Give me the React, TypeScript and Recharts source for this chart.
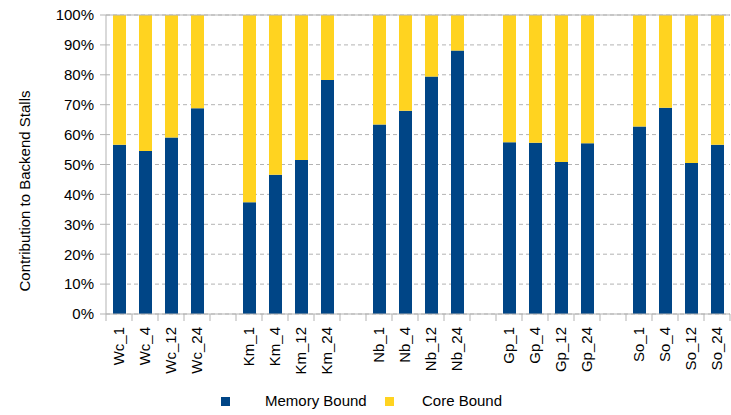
import React from 'react';
import { BarChart, Bar, XAxis, YAxis, CartesianGrid, Legend, ReferenceLine } from 'recharts';

const categories = [
  'Wc_1', 'Wc_4', 'Wc_12', 'Wc_24', 'gap1',
  'Km_1', 'Km_4', 'Km_12', 'Km_24', 'gap2',
  'Nb_1', 'Nb_4', 'Nb_12', 'Nb_24', 'gap3',
  'Gp_1', 'Gp_4', 'Gp_12', 'Gp_24', 'gap4',
  'So_1', 'So_4', 'So_12', 'So_24',
];

const memoryBound: number[] = [
  56.6, 54.5, 59.0, 68.8, 0,
  37.4, 46.6, 51.5, 78.3, 0,
  63.4, 68.0, 79.4, 88.1, 0,
  57.4, 57.3, 50.8, 57.1, 0,
  62.7, 69.0, 50.5, 56.6,
];

const coreBound: number[] = [
  43.4, 45.5, 41.0, 31.2, 0,
  62.6, 53.4, 48.5, 21.7, 0,
  36.6, 32.0, 20.6, 11.9, 0,
  42.6, 42.7, 49.2, 42.9, 0,
  37.3, 31.0, 49.5, 43.4,
];

const yTicks = [0, 10, 20, 30, 40, 50, 60, 70, 80, 90, 100];

const seriesNames = { memory: 'Memory Bound', core: 'Core Bound' };
const COLORS = { memory: '#004586', core: '#ffd320' };
const AXIS = '#b3b3b3';
const FONT = '"Liberation Sans", Arial, sans-serif';

const data = categories.map((name, i) => ({
  name,
  memory: memoryBound[i],
  core: coreBound[i],
}));

const HALF_BAND = 13;

const XTick = (props: any) => {
  const { x, y, payload, index } = props;
  const label = String(payload.value).startsWith('gap') ? '' : payload.value;
  const isLast = index === categories.length - 1;
  const ty = y + 5;
  return (
    <g>
      <line x1={x - HALF_BAND} x2={x - HALF_BAND} y1={y - 8} y2={y - 1} stroke={AXIS} />
      {isLast && <line x1={x + HALF_BAND} x2={x + HALF_BAND} y1={y - 8} y2={y - 1} stroke={AXIS} />}
      {label && (
        <g transform={`translate(${x}, ${ty}) rotate(-90)`}>
          <text x={0} y={0} textAnchor="end" dy="0.36em" fill="#000" fontSize={15} fontFamily={FONT}>
            {label}
          </text>
        </g>
      )}
    </g>
  );
};

const LegendContent = () => (
  <div style={{ position: 'relative', width: 731, height: 20, fontFamily: FONT, fontSize: 15, color: '#000' }}>
    <span style={{ position: 'absolute', left: 221, top: 6, width: 9, height: 9, background: COLORS.memory }} />
    <span style={{ position: 'absolute', left: 265, top: 1, whiteSpace: 'nowrap', lineHeight: '18px' }}>{seriesNames.memory}</span>
    <span style={{ position: 'absolute', left: 385, top: 6, width: 9, height: 9, background: COLORS.core }} />
    <span style={{ position: 'absolute', left: 422, top: 1, whiteSpace: 'nowrap', lineHeight: '18px' }}>{seriesNames.core}</span>
  </div>
);

export default function App() {
  return (
    <div style={{ position: 'absolute', left: 0, top: 0, width: 731, height: 415, background: '#fff' }}>
      <BarChart
        width={731}
        height={415}
        data={data}
        margin={{ top: 15, right: 1, bottom: 0, left: 0 }}
        barSize={13}
      >
        <CartesianGrid vertical={false} stroke={AXIS} strokeDasharray="4 3" />
        <XAxis
          dataKey="name"
          interval={0}
          height={101}
          axisLine={{ stroke: AXIS }}
          tickLine={false}
          tick={<XTick />}
        />
        <YAxis
          width={106}
          domain={[0, 100]}
          ticks={yTicks}
          tickFormatter={(v: number) => `${v}%`}
          axisLine={{ stroke: AXIS }}
          tickLine={{ stroke: AXIS }}
          tickSize={6}
          tickMargin={6}
          tick={{ fill: '#000', fontSize: 15, fontFamily: FONT }}
          label={{
            content: () => (
              <text
                x={25}
                y={191}
                transform="rotate(-90, 25, 191)"
                textAnchor="middle"
                dy="0.36em"
                fontSize={15}
                fontFamily={FONT}
                fill="#000"
              >
                Contribution to Backend Stalls
              </text>
            ),
          }}
        />
        <Bar dataKey="memory" name={seriesNames.memory} stackId="a" fill={COLORS.memory} isAnimationActive={false} />
        <Bar dataKey="core" name={seriesNames.core} stackId="a" fill={COLORS.core} isAnimationActive={false} />
        <ReferenceLine y={100} stroke={AXIS} />
        <Legend
          verticalAlign="middle"
          align="center"
          layout="horizontal"
          wrapperStyle={{ position: 'absolute', left: 0, top: 391, width: 731, height: 20 }}
          content={<LegendContent />}
        />
      </BarChart>
    </div>
  );
}
